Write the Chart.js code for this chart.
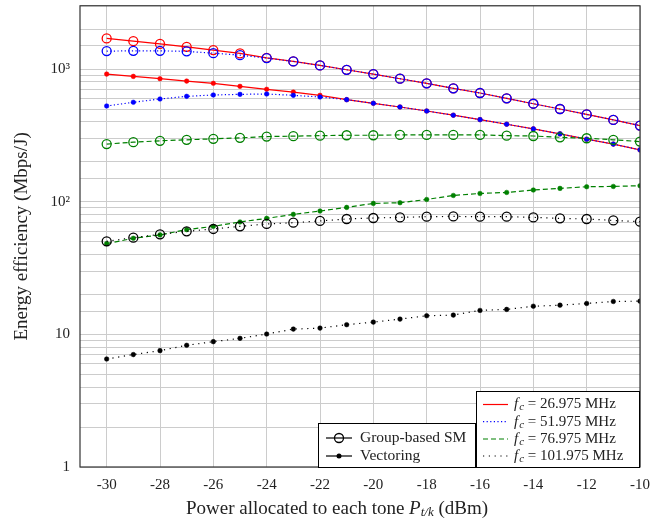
<!DOCTYPE html>
<html>
<head>
<meta charset="utf-8">
<script src="https://cdn.jsdelivr.net/npm/chart.js@4.4.1/dist/chart.umd.min.js"></script>
<style>
html, body { margin: 0; padding: 0; background: #fff; }
</style>
</head>
<body>
<canvas id="grafica" width="667" height="525"></canvas>
<script>
// Potencia por tono (dBm)
var potencia = [-30, -29, -28, -27, -26, -25, -24, -23, -22, -21, -20, -19, -18, -17, -16, -15, -14, -13, -12, -11, -10];
var ticksX = [-30, -28, -26, -24, -22, -20, -18, -16, -14, -12, -10];

// Group-based SM (circulos abiertos)
var gsm26 = [1702, 1624, 1549, 1472, 1389, 1312, 1216, 1142, 1066, 988, 917, 846, 781, 716, 660, 602, 548, 500, 455, 414, 375];
var gsm51 = [1366, 1373, 1373, 1360, 1319, 1274, 1210, 1142, 1066, 988, 917, 846, 781, 716, 660, 602, 548, 500, 455, 414, 375];
var gsm76 = [272, 281, 288, 293, 298, 303, 310, 312, 315, 317, 317, 319, 319, 319, 319, 315, 313, 306, 301, 293, 284];
var gsm101 = [50.3, 53.6, 56.8, 59.8, 62.3, 65.2, 68.0, 69.5, 71.6, 74.1, 75.4, 76.2, 77.1, 77.5, 77.1, 77.1, 76.2, 74.9, 74.1, 72.3, 70.7];

// Vectoring (puntos rellenos)
var vec26 = [917, 881, 846, 812, 781, 741, 704, 671, 634, 588, 552, 518, 483, 449, 416, 384, 354, 325, 296, 272, 246];
var vec51 = [527, 562, 595, 623, 638, 645, 649, 634, 616, 588, 552, 518, 483, 449, 416, 384, 354, 325, 296, 272, 246];
var vec76 = [48.3, 53.0, 56.2, 61.6, 65.2, 70.4, 74.9, 80.3, 85.1, 90.6, 97.1, 98.3, 104, 111.5, 115.4, 117.5, 122.5, 126, 129.7, 130.4, 132];
var vec101 = [6.52, 7.04, 7.54, 8.27, 8.81, 9.33, 10.05, 10.96, 11.15, 11.83, 12.37, 13.03, 13.82, 13.97, 15.15, 15.42, 16.3, 16.6, 17.1, 17.7, 17.8];

var frecuencias = ['26.975', '51.975', '76.975', '101.975'];
var colores = ['#ff0000', '#0000ff', '#008000', '#000000'];
var trazos = [[], [1.2, 2.4], [5, 3], [1.2, 4.6]];
var esquemas = ['Group-based SM', 'Vectoring'];

var FUENTE = '"Liberation Serif", "DejaVu Serif", serif';

function puntos(valores) {
    var res = [];
    for (var i = 0; i < valores.length; i++) {
        res.push({ x: potencia[i], y: valores[i] });
    }
    return res;
}

var series = [
    [gsm26, vec26],
    [gsm51, vec51],
    [gsm76, vec76],
    [gsm101, vec101]
];

var chartDataSet = [];
var orden = 20;
for (var f = 0; f < series.length; f++) {
    for (var s = 0; s < 2; s++) {
        chartDataSet.push({
            label: esquemas[s] + ' ' + frecuencias[f],
            data: puntos(series[f][s]),
            borderColor: colores[f],
            borderWidth: 1.2,
            borderDash: trazos[f],
            pointStyle: 'circle',
            pointRadius: s === 0 ? 4.5 : 2.3,
            pointBorderWidth: s === 0 ? 1.3 : 0.5,
            pointBorderColor: colores[f],
            pointBackgroundColor: s === 0 ? 'rgba(0,0,0,0)' : colores[f],
            tension: 0,
            fill: false,
            order: orden--
        });
    }
}

function textoFc(c, x, y, frec) {
    c.textAlign = 'left';
    c.textBaseline = 'middle';
    c.font = 'italic 15px ' + FUENTE;
    c.fillText('f', x, y);
    var w = c.measureText('f').width + 1;
    c.font = 'italic 11px ' + FUENTE;
    c.fillText('c', x + w, y + 3);
    w += c.measureText('c').width;
    c.font = '15px ' + FUENTE;
    c.fillText(' = ' + frec + ' MHz', x + w, y);
}

// Marco, titulos y leyendas
var extras = {
    id: 'extras',
    afterDraw: function (chart) {
        var c = chart.ctx;
        var a = chart.chartArea;
        c.save();
        c.strokeStyle = '#333';
        c.lineWidth = 1.2;
        c.setLineDash([]);
        c.strokeRect(a.left, a.top, a.right - a.left, a.bottom - a.top);

        c.fillStyle = '#222';
        // titulo eje y
        c.save();
        c.font = '19px ' + FUENTE;
        c.translate(22, (a.top + a.bottom) / 2);
        c.rotate(-Math.PI / 2);
        c.textAlign = 'center';
        c.textBaseline = 'middle';
        c.fillText('Energy efficiency (Mbps/J)', 0, 0);
        c.restore();

        // titulo eje x
        var partes = [
            ['Power allocated to each tone ', '19px ', 0],
            ['P', 'italic 19px ', 0],
            ['t/k', 'italic 13px ', 4],
            [' (dBm)', '19px ', 0]
        ];
        var total = 0;
        for (var i = 0; i < partes.length; i++) {
            c.font = partes[i][1] + FUENTE;
            total += c.measureText(partes[i][0]).width;
        }
        var xx = 337 - total / 2;
        c.textAlign = 'left';
        c.textBaseline = 'middle';
        for (var i = 0; i < partes.length; i++) {
            c.font = partes[i][1] + FUENTE;
            c.fillText(partes[i][0], xx, 509 + partes[i][2]);
            xx += c.measureText(partes[i][0]).width;
        }

        // leyenda de esquemas
        c.fillStyle = '#fff';
        c.fillRect(318, 423, 158, 45);
        c.strokeStyle = '#000';
        c.lineWidth = 1;
        c.strokeRect(318.5, 423.5, 157, 44);
        var yl = [438, 456];
        for (var s = 0; s < 2; s++) {
            c.strokeStyle = '#000';
            c.lineWidth = 1.2;
            c.beginPath();
            c.moveTo(326, yl[s]);
            c.lineTo(352, yl[s]);
            c.stroke();
            c.beginPath();
            if (s === 0) {
                c.arc(339, yl[s], 4.5, 0, Math.PI * 2);
                c.lineWidth = 1.3;
                c.stroke();
            } else {
                c.arc(339, yl[s], 2.5, 0, Math.PI * 2);
                c.fillStyle = '#000';
                c.fill();
            }
            c.fillStyle = '#222';
            c.font = '15.5px ' + FUENTE;
            c.textAlign = 'left';
            c.textBaseline = 'middle';
            c.fillText(esquemas[s], 360, yl[s]);
        }

        // leyenda de frecuencias
        c.fillStyle = '#fff';
        c.fillRect(476, 391, 164, 77);
        c.strokeStyle = '#000';
        c.lineWidth = 1;
        c.strokeRect(476.5, 391.5, 163, 76);
        var yf = [404.5, 421.7, 439, 456];
        for (var f = 0; f < frecuencias.length; f++) {
            c.strokeStyle = colores[f];
            c.lineWidth = 1.2;
            c.setLineDash(trazos[f]);
            c.beginPath();
            c.moveTo(483, yf[f]);
            c.lineTo(508, yf[f]);
            c.stroke();
            c.setLineDash([]);
            c.fillStyle = '#222';
            textoFc(c, 514, yf[f], frecuencias[f]);
        }
        c.restore();
    }
};

var ctx = document.getElementById('grafica');
window.myChart = new Chart(ctx, {
    type: 'line',
    data: { datasets: chartDataSet },
    plugins: [extras],
    options: {
        responsive: false,
        animation: false,
        devicePixelRatio: 1,
        layout: { padding: { left: 0, right: 27, top: 5, bottom: 0 } },
        plugins: {
            legend: { display: false },
            title: { display: false },
            tooltip: { enabled: false }
        },
        scales: {
            x: {
                type: 'linear',
                min: -31,
                max: -10,
                afterBuildTicks: function (scale) {
                    scale.ticks = ticksX.map(function (v) { return { value: v }; });
                },
                afterFit: function (scale) {
                    scale.height = 58;
                    scale.paddingLeft = 0;
                    scale.paddingRight = 0;
                },
                grid: { color: '#cccccc', lineWidth: 1, drawTicks: false },
                border: { display: false },
                ticks: {
                    autoSkip: false,
                    maxRotation: 0,
                    padding: 9,
                    color: '#222',
                    font: { family: FUENTE, size: 15 }
                }
            },
            y: {
                type: 'logarithmic',
                min: 1,
                max: 3000,
                afterFit: function (scale) {
                    scale.width = 80;
                    scale.paddingTop = 0;
                    scale.paddingBottom = 0;
                },
                grid: { color: '#cccccc', lineWidth: 1, drawTicks: false },
                border: { display: false },
                ticks: {
                    autoSkip: false,
                    padding: 10,
                    color: '#222',
                    font: { family: FUENTE, size: 15 },
                    callback: function (v) {
                        var e = Math.log10(v);
                        if (Math.abs(e - Math.round(e)) > 1e-9) return '';
                        var etiquetas = ['1', '10', '10\u00b2', '10\u00b3'];
                        return etiquetas[Math.round(e)] || '';
                    }
                }
            }
        }
    }
});
</script>
</body>
</html>
